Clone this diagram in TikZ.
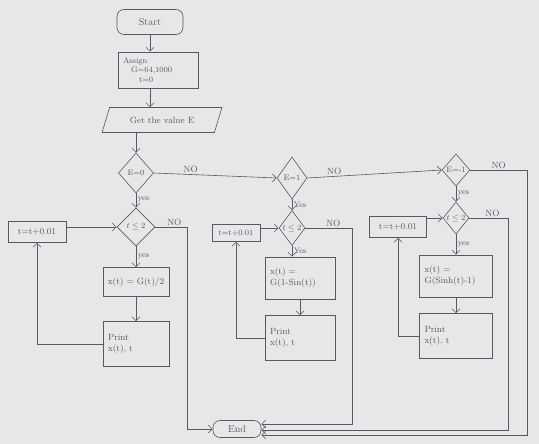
\documentclass[tikz,border=0pt]{standalone}
\usepackage{amsmath,amssymb}
\usepackage{xcolor}
\definecolor{skpaper}{HTML}{E8E6E9}
\definecolor{skpen}{HTML}{58585E}
\usetikzlibrary{arrows.meta,positioning,shapes.geometric}
\tikzset{
  skbox/.style={draw=skpen,line width=.6pt,align=left,font=\small,text=skpen,inner sep=2pt},
  skwide/.style={skbox,inner xsep=5pt},
  skterm/.style={draw=skpen,line width=.6pt,rounded corners=7pt,font=\normalsize,text=skpen,inner sep=2pt},
  skio/.style={draw=skpen,line width=.6pt,trapezium,trapezium left angle=65,trapezium right angle=115,trapezium stretches=true,font=\small,text=skpen,inner sep=2pt},
  skdec/.style={draw=skpen,line width=.6pt,diamond,inner sep=0pt,font=\footnotesize,text=skpen},
  skflow/.style={-{Straight Barb[length=4pt,width=8pt]},draw=skpen,line width=.6pt},
  sklabel/.style={font=\small,text=skpen,inner sep=1.5pt},
}

\begin{document}
\begin{tikzpicture}[x=1pt,y=-1pt]
\fill[skpaper] (0,0) rectangle (539,444);
\useasboundingbox (0,0) rectangle (539,444);
% top of the chart
\node[skterm,minimum width=66pt,minimum height=25pt](start) at (150,22){Start};
\node[skwide,font=\footnotesize,text width=70pt,minimum height=36pt](assign) at (158,70){Assign\\\quad G=64,1000\\\qquad t=0};
\node[skio,minimum width=120pt,minimum height=25pt](get) at (162,120){Get the value E};
% case E=0
\node[skdec,minimum width=35pt,minimum height=40pt](e0) at (136,173){E=0};
\node[skdec,minimum width=38pt,minimum height=38pt](t1) at (136,227){$t\le 2$};
\node[skbox,minimum width=58pt,minimum height=21pt](inc1) at (37,232){t=t+0.01};
\node[skbox,minimum width=66pt,minimum height=29pt](x1) at (136,282){x(t) = G(t)/2};
\node[skwide,text width=56pt,minimum height=45pt](p1) at (136,344){Print\\x(t), t};
% case E=1
\node[skdec,minimum width=30pt,minimum height=42pt](e1) at (292,178){E=1};
\node[skdec,minimum width=26pt,minimum height=35pt](t2) at (292,228){$t\le 2$};
\node[skbox,font=\footnotesize,minimum width=48pt,minimum height=17pt](inc2) at (236,233){t=t+0.01};
\node[skwide,text width=60pt,minimum height=42pt](x2) at (300,278){x(t) =\\G(1-Sin(t))};
\node[skwide,text width=60pt,minimum height=45pt](p2) at (300,338){Print\\x(t), t};
% case E=-1
\node[skdec,minimum width=28pt,minimum height=32pt](em) at (456,170){E=-1};
\node[skdec,minimum width=26pt,minimum height=32pt](t3) at (456,218){$t\le 2$};
\node[skbox,minimum width=57pt,minimum height=21pt](inc3) at (398,227){t=t+0.01};
\node[skwide,text width=63pt,minimum height=42pt](x3) at (456,276){x(t) =\\G(Sinh(t)-1)};
\node[skwide,text width=63pt,minimum height=45pt](p3) at (456,336){Print\\x(t), t};
% end
\node[skterm,minimum width=48pt,minimum height=17pt](end) at (237,429){End};
\coordinate (n1) at (187,429);
\coordinate (n2) at (352,424);
\coordinate (n3) at (508,430);
\coordinate (n4) at (527,435);
% flow
\draw[skflow](start.south)--(start.south|-assign.north);
\draw[skflow](start.south|-assign.south)--(start.south|-get.north);
\draw[skflow](e0.north|-get.south)--(e0.north);
\draw[skflow](e0)--node[sklabel,font=\footnotesize,right,pos=.45]{yes}(t1);
\draw[skflow](e0.east)--node[sklabel,above,pos=.3]{NO}(e1.west);
\draw[skflow](t1)--node[sklabel,font=\footnotesize,right]{yes}(x1);
\draw[skflow](x1)--(p1);
\draw[skflow](p1.west)-|(inc1.south);
\draw[skflow](inc1.east|-t1.west)--(t1.west);
\draw[skflow](t1.east)-|node[sklabel,above,pos=.3]{NO}(n1)--(end.west);
\draw[skflow](e1)--node[sklabel,font=\footnotesize,right]{Yes}(t2);
\draw[skflow](e1.east)--node[sklabel,above,pos=.2]{NO}(em.west);
\draw[skflow](t2.south)--node[sklabel,font=\footnotesize,right]{Yes}(t2.south|-x2.north);
\draw[skflow](x2)--(p2);
\draw[skflow](p2.west)-|(inc2.south);
\draw[skflow](inc2.east|-t2.west)--(t2.west);
\draw[skflow](t2.east)-|node[sklabel,above,pos=.3]{NO}(n2)--(n2-|end.east);
\draw[skflow](em)--node[sklabel,font=\footnotesize,right]{yes}(t3);
\draw[skflow](t3)--node[sklabel,font=\footnotesize,right]{yes}(x3);
\draw[skflow](x3)--(p3);
\draw[skflow](p3.west)-|(inc3.south);
\draw[skflow](inc3.east|-t3.west)--(t3.west);
\draw[skflow](t3.east)-|node[sklabel,above,pos=.3]{NO}(n3)--(n3-|end.east);
\draw[skflow](em.east)-|node[sklabel,above,pos=.25]{NO}(n4)--(n4-|end.east);
\end{tikzpicture}
\end{document}
